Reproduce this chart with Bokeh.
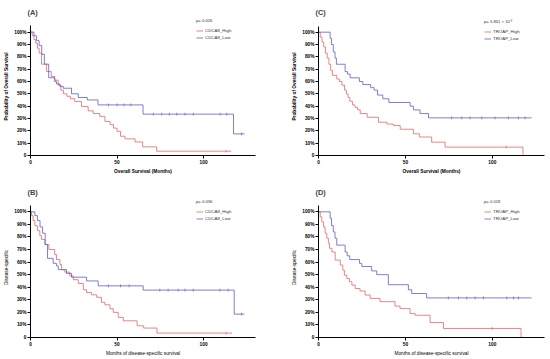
from bokeh.plotting import figure
from bokeh.layouts import column, row
from bokeh.models import FixedTicker, Legend, LegendItem, Range1d
from bokeh.embed import file_html
from bokeh.resources import INLINE
import numpy as np

RED = "#e06a6a"
BLUE = "#5e5ec8"
FONT = "Liberation Sans"

# ---------------- data (months, survival %) ----------------
# (A) CDCA8 overall survival
a_high_t = [0, 1, 2, 3, 4, 5, 6.4, 9.3, 12, 14, 16, 17.5, 19, 21, 23, 25.6, 29.5, 33.3, 36.2, 40, 43, 46, 48, 50, 52, 54.6, 60.4, 64.8, 72.9, 116]
a_high_s = [100, 97, 94, 91, 87, 83, 74, 68, 64, 61, 57, 53, 50, 48, 46, 43.7, 39.7, 36.2, 34, 31.7, 27.6, 25, 22.2, 19.6, 15.6, 13.5, 11, 7, 3.5, 3.5]
a_high_c = [113]
a_low_t = [0, 2, 3.5, 5, 6.5, 8, 10.5, 14, 15, 17, 18.9, 23.7, 27.6, 32.8, 39, 65, 117.3, 123.6]
a_low_s = [100, 97, 93, 89, 82, 74, 63, 60, 58, 56, 54.5, 50, 47, 45, 41, 33.5, 17.5, 17.5]
a_low_c = [45, 50, 54, 58, 71, 75.8, 80.2, 84.5, 89.3, 94.1, 109.6, 113.4, 122]

# (B) CDCA8 disease-specific survival
b_high_t = [0, 0.6, 1.5, 2.5, 4, 5.4, 6.4, 8.3, 10.6, 14, 15, 17, 17.9, 19.8, 22.7, 24.7, 27.6, 30.5, 32.4, 35.3, 38.2, 41, 43, 45.9, 47.8, 50.7, 53.6, 61.6, 65.4, 73.1, 116.5]
b_high_s = [100, 97, 93, 89, 85, 81, 78, 74, 70, 66, 62, 58, 54, 52, 49, 46, 43, 38, 35.8, 34, 32, 28, 26, 23, 20, 16, 13.3, 9.3, 7.5, 3.5, 3.5]
b_high_c = [113]
b_low_t = [0, 2.5, 4, 5.5, 7, 8.5, 9.8, 13.1, 15, 16, 20.8, 23.7, 32.4, 39.1, 65.1, 117.7, 123.5]
b_low_s = [100, 97, 93, 88, 83, 74, 63, 59, 57, 54, 51, 48, 45, 41.1, 37.7, 18.6, 18.6]
b_low_c = [45, 52, 57, 74.7, 79.5, 85.3, 89.2, 94, 109.4, 114.2, 122]

# (C) TROAP overall survival
c_high_t = [0, 1, 2, 3, 4, 5, 6, 7, 8, 10.5, 12, 13.5, 15, 16, 17, 18, 19.5, 21, 22.5, 24, 28, 34.5, 39.3, 43, 47, 54.6, 58, 65.1, 72.8, 117.6]
c_high_s = [100, 96, 92, 88, 83, 79, 74, 69, 65, 62, 60, 57, 53, 50, 47, 44, 41, 39, 37, 34, 31, 27, 25.5, 24.3, 21.3, 17.6, 15, 10.8, 6.8, 0]
c_high_c = [108]
c_low_t = [0, 6.7, 7.5, 8.5, 9.5, 10.3, 15.3, 16.7, 18.2, 23.5, 25.5, 30, 32, 34, 37, 40.5, 52.7, 54.6, 58.4, 63.3, 122.6]
c_low_s = [100, 95, 90, 84, 79, 74, 68, 66, 63, 60, 57.5, 55, 53, 49, 46, 43, 40, 37, 34, 30.5, 30.5]
c_low_c = [76.6, 82.4, 87.2, 93.9, 101.5, 109.2, 115, 118.8]

# (D) TROAP disease-specific survival
d_high_t = [0, 1, 1.9, 2.9, 3.8, 4.8, 5.7, 6.3, 7.7, 9.6, 12.5, 14, 14.9, 16.3, 17.8, 19.2, 21.1, 23.9, 26.8, 29.7, 35.4, 44, 46.9, 52.7, 55.6, 64.2, 71.9, 116.5]
d_high_s = [100, 96, 92, 88, 83, 79, 75, 71, 68, 61.6, 57.6, 53.6, 49.6, 47, 44.4, 41.7, 39, 37, 33.8, 31.1, 28.5, 25, 23, 19, 17.7, 11.9, 7.2, 0]
d_high_c = [100]
d_low_t = [0, 6.7, 7.5, 8.5, 9.5, 10.5, 15.3, 16.5, 18, 23.6, 24.9, 30.6, 33.5, 40.2, 51.7, 53.6, 62.2, 122.6]
d_low_s = [100, 95, 89, 84, 79, 73.5, 68, 65, 62, 59, 56.5, 53, 50, 42, 38, 35, 31.5, 31.5]
d_low_c = [74.7, 80.5, 85.3, 90.1, 94.9, 108.3, 112.2, 115.1]

x_ticks = [0, 50, 100]
y_ticks = [0, 10, 20, 30, 40, 50, 60, 70, 80, 90, 100]
y_labels = {0: "0"}
y_labels.update({t: f"{t}%" for t in y_ticks[1:]})


def level(ts, ss, cs):
    ts = np.asarray(ts, float)
    ss = np.asarray(ss, float)
    idx = np.searchsorted(ts, np.asarray(cs, float), side="right") - 1
    return ss[idx]


def panel(tag, ylab, xlab, pval, names, high, low, width, height,
          bl, br, bt, bb, xend, yend, leg_xy, bold_labels):
    p = figure(width=width, height=height, output_backend="svg", toolbar_location=None,
               x_range=Range1d(0, xend), y_range=Range1d(0, yend),
               min_border=0, min_border_left=bl, min_border_right=br,
               min_border_top=bt, min_border_bottom=bb)
    p.outline_line_color = None
    p.xgrid.visible = False
    p.ygrid.visible = False
    p.background_fill_color = "white"
    p.border_fill_color = "white"

    p.title.text = tag
    p.title.text_font = FONT
    p.title.text_font_size = "7.4px"
    p.title.text_font_style = "bold"
    p.title.align = "left"
    p.title.offset = -3
    p.title.standoff = 2

    renderers = []
    for (t, s, c), col in ((high, RED), (low, BLUE)):
        r = p.step(x=t, y=s, mode="after", line_color=col, line_width=0.8)
        renderers.append(r)
        p.scatter(x=c, y=level(t, s, c), marker="dash", angle=np.pi / 2, size=2.8,
                  line_color=col, line_width=0.7)

    for ax in (p.xaxis, p.yaxis):
        ax.axis_line_color = "black"
        ax.axis_line_width = 1
        ax.major_tick_line_color = "black"
        ax.major_tick_out = 3
        ax.major_tick_in = 0
        ax.minor_tick_out = 0
        ax.minor_tick_in = 0
        ax.major_label_text_font = FONT
        ax.major_label_text_font_size = "4.8px"
        ax.major_label_text_font_style = "bold"
        ax.major_label_text_color = "black"
        ax.major_label_standoff = 1
        ax.axis_label_text_font = FONT
        ax.axis_label_text_font_size = "4.8px"
        ax.axis_label_text_font_style = "bold" if bold_labels else "normal"
        ax.axis_label_text_color = "black"
        ax.axis_label_standoff = 2
    p.xaxis.axis_line_width = 1.2
    p.xaxis.ticker = FixedTicker(ticks=x_ticks)
    p.yaxis.ticker = FixedTicker(ticks=y_ticks)
    p.yaxis.major_label_overrides = y_labels
    p.yaxis.bounds = (0, 105)
    p.xaxis.axis_label = xlab
    p.yaxis.axis_label = ylab

    items = [LegendItem(label=names[0], renderers=[renderers[0]]),
             LegendItem(label=names[1], renderers=[renderers[1]])]
    leg = Legend(items=items, location=leg_xy, title=pval,
                 padding=0, spacing=0, margin=0, glyph_width=7, glyph_height=7,
                 label_height=7, label_standoff=2,
                 label_text_font=FONT, label_text_font_size="4.4px",
                 label_text_color="#333333",
                 title_text_font=FONT, title_text_font_size="4.2px",
                 title_text_color="#333333",
                 title_text_font_style="normal", title_standoff=4,
                 background_fill_alpha=0, border_line_color=None)
    p.add_layout(leg)
    return p


pA = panel("(A)", "Probability of Overall Survival", "Overall Survival (Months)", "p= 0.026",
           ["CDCA8_High", "CDCA8_Low"], (a_high_t, a_high_s, a_high_c), (a_low_t, a_low_s, a_low_c),
           275, 180, 30, 20, 17, 24, 130, 111.8, (166, 114), True)
pC = panel("(C)", "Probability of Overall Survival", "Overall Survival (Months)", "p= 5.851 × 10⁻³",
           ["TROAP_High", "TROAP_Low"], (c_high_t, c_high_s, c_high_c), (c_low_t, c_low_s, c_low_c),
           275, 180, 43, 6, 17, 25, 130, 111.9, (166, 113), True)
pB = panel("(B)", "Disease-specific", "Months of disease-specific survival", "p= 0.036",
           ["CDCA8_High", "CDCA8_Low"], (b_high_t, b_high_s, b_high_c), (b_low_t, b_low_s, b_low_c),
           275, 179, 30, 20, 17, 22, 130, 111.4, (166, 115), False)
pD = panel("(D)", "Disease-specific", "Months of disease-specific survival", "p= 0.018",
           ["TROAP_High", "TROAP_Low"], (d_high_t, d_high_s, d_high_c), (d_low_t, d_low_s, d_low_c),
           275, 179, 43, 6, 17, 22, 130, 111.4, (166, 115), False)

layout = column(row(pA, pC), row(pB, pD))
open("out.html", "w").write(file_html(layout, INLINE))
